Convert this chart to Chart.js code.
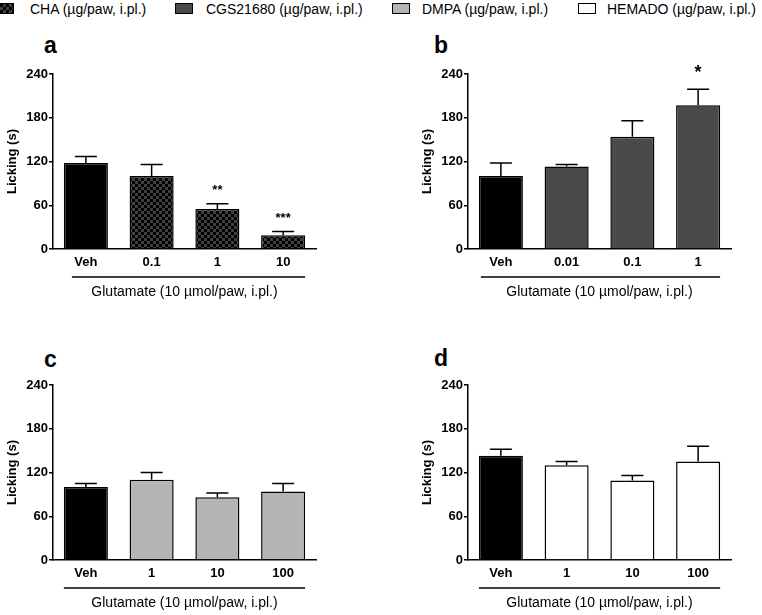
<!DOCTYPE html>
<html>
<head>
<meta charset="utf-8">
<script src="https://cdn.jsdelivr.net/npm/chart.js@4.4.1/dist/chart.umd.min.js"></script>
<style>
  html, body { margin: 0; padding: 0; background: #fff; overflow: hidden; }
  body { width: 762px; height: 615px; position: relative; font-family: "Liberation Sans", Arial, sans-serif; }
  canvas { position: absolute; }
  .leg { position: absolute; top: 1px; font-size: 14px; line-height: 16px; color: #000; white-space: nowrap; }
  .box { position: absolute; top: 3px; width: 18px; height: 11px; box-sizing: border-box; border: 1.5px solid #000; }
  .letter { position: absolute; font-weight: bold; font-size: 23px; line-height: 22px; color: #000; }
</style>
</head>
<body>
<div class="box" style="left:-4px;background:repeating-conic-gradient(#000 0 25%, #404040 0 50%) 0 0/6px 6px;"></div>
<div class="leg" style="left:30px;">CHA (µg/paw, i.pl.)</div>
<div class="box" style="left:175px;background:#4a4a4a;"></div>
<div class="leg" style="left:206px;">CGS21680 (µg/paw, i.pl.)</div>
<div class="box" style="left:392px;background:#b4b4b4;"></div>
<div class="leg" style="left:422px;">DMPA (µg/paw, i.pl.)</div>
<div class="box" style="left:578px;background:#fff;"></div>
<div class="leg" style="left:607px;">HEMADO (µg/paw, i.pl.)</div>

<div class="letter" style="left:44px;top:34px;">a</div>
<div class="letter" style="left:434px;top:34px;">b</div>
<div class="letter" style="left:44px;top:348px;">c</div>
<div class="letter" style="left:434px;top:347px;">d</div>

<canvas id="chartA" width="380" height="270" style="left:0;top:40px;"></canvas>
<canvas id="chartB" width="382" height="270" style="left:380px;top:40px;"></canvas>
<canvas id="chartC" width="380" height="270" style="left:0;top:351px;"></canvas>
<canvas id="chartD" width="382" height="270" style="left:380px;top:351px;"></canvas>

<script>
// panel a: CHA
const labelsA = ['Veh', '0.1', '1', '10'];
const meanA = [118, 100, 55, 19];
const errA = [127, 116, 62, 24];
const starsA = ['', '', '**', '***'];

// panel b: CGS21680
const labelsB = ['Veh', '0.01', '0.1', '1'];
const meanB = [100, 113, 154, 197];
const errB = [118, 116, 176, 219];
const starsB = ['', '', '', '*'];

// panel c: DMPA
const labelsC = ['Veh', '1', '10', '100'];
const meanC = [100, 110, 86, 94];
const errC = [105, 120, 92, 105];
const starsC = ['', '', '', ''];

// panel d: HEMADO
const labelsD = ['Veh', '1', '10', '100'];
const meanD = [143, 130, 109, 135];
const errD = [152, 135, 116, 156];
const starsD = ['', '', '', ''];

const yTicks = [0, 60, 120, 180, 240];
const xTitle = 'Glutamate (10 µmol/paw, i.pl.)';
const yTitle = 'Licking (s)';

Chart.defaults.font.family = '"Liberation Sans", Arial, sans-serif';
Chart.defaults.color = '#000';

function checker() {
  const c = document.createElement('canvas');
  c.width = 6; c.height = 6;
  const g = c.getContext('2d');
  g.fillStyle = '#000'; g.fillRect(0, 0, 6, 6);
  g.fillStyle = '#404040'; g.fillRect(0, 0, 3, 3); g.fillRect(3, 3, 3, 3);
  return g.createPattern(c, 'repeat');
}

// error bars (upper only), significance stars and the line under the doses
const extras = {
  id: 'extras',
  afterDatasetsDraw(chart) {
    const { ctx, scales: { x, y }, chartArea } = chart;
    const ds = chart.data.datasets[0];
    const meta = chart.getDatasetMeta(0);
    ctx.save();
    ctx.strokeStyle = '#000';
    ctx.lineWidth = 1.5;
    meta.data.forEach((bar, i) => {
      const top = y.getPixelForValue(ds.errors[i]);
      ctx.beginPath();
      ctx.moveTo(bar.x, bar.y);
      ctx.lineTo(bar.x, top);
      ctx.moveTo(bar.x - 11, top);
      ctx.lineTo(bar.x + 11, top);
      ctx.stroke();
      if (ds.stars[i]) {
        ctx.fillStyle = '#000';
        ctx.font = 'bold ' + ds.starSize + 'px "Liberation Sans", Arial, sans-serif';
        ctx.textAlign = 'center';
        ctx.textBaseline = 'middle';
        ctx.fillText(ds.stars[i], bar.x, top - ds.starGap);
      }
    });
    const n = ds.data.length;
    const ly = chartArea.bottom + 28;
    ctx.beginPath();
    ctx.moveTo(x.getPixelForValue(0) - 22 + ds.lineInset, ly);
    ctx.lineTo(x.getPixelForValue(n - 1) + 22, ly);
    ctx.stroke();
    ctx.restore();
  }
};

function makePanel(id, labels, values, errors, stars, fill, padLeft, padRight, starSize, starGap, lineInset) {
  const colors = values.map((v, i) => i === 0 ? '#000' : fill);
  new Chart(document.getElementById(id), {
    type: 'bar',
    data: {
      labels: labels,
      datasets: [{
        data: values,
        errors: errors,
        stars: stars,
        starSize: starSize,
        starGap: starGap,
        lineInset: lineInset,
        backgroundColor: colors,
        borderColor: '#000',
        borderWidth: 1.5,
        barPercentage: 0.67,
        categoryPercentage: 1
      }]
    },
    options: {
      responsive: false,
      animation: false,
      devicePixelRatio: 1,
      layout: { padding: { top: 34, right: padRight, left: padLeft, bottom: 0 } },
      plugins: { legend: { display: false }, tooltip: { enabled: false } },
      scales: {
        x: {
          afterFit: s => { s.height = 61; },
          grid: { display: false, drawTicks: false },
          border: { color: '#000', width: 1.5 },
          ticks: { padding: 6, font: { size: 13, weight: 'bold' }, color: '#000' },
          title: { display: true, text: xTitle, font: { size: 14 }, color: '#000', padding: { top: 0, bottom: 9 } }
        },
        y: {
          min: 0,
          max: 240,
          afterFit: s => { s.width = 53; },
          afterBuildTicks: s => { s.ticks = yTicks.map(v => ({ value: v })); },
          grid: { drawOnChartArea: false, tickLength: 4, color: '#000', lineWidth: 1.5 },
          border: { color: '#000', width: 1.5 },
          ticks: { padding: 1, font: { size: 13, weight: 'bold' }, color: '#000' },
          title: { display: true, text: yTitle, font: { size: 13, weight: 'bold' }, color: '#000', padding: { top: 5, bottom: 0 } }
        }
      }
    },
    plugins: [extras]
  });
}

makePanel('chartA', labelsA, meanA, errA, starsA, checker(), 0, 64, 13, 13, 8);
makePanel('chartB', labelsB, meanB, errB, starsB, '#4a4a4a', 35, 31, 18, 16, 2);
makePanel('chartC', labelsC, meanC, errC, starsC, '#b4b4b4', 0, 64, 13, 13, 0);
makePanel('chartD', labelsD, meanD, errD, starsD, '#ffffff', 35, 31, 13, 13, 0);
</script>
</body>
</html>
